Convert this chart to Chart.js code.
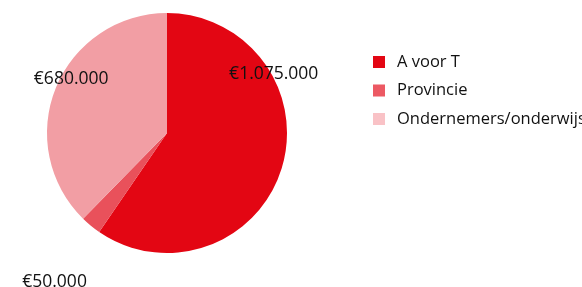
<!DOCTYPE html>
<html>
<head>
<meta charset="utf-8">
<script src="https://cdn.jsdelivr.net/npm/chart.js@4.4.1/dist/chart.umd.min.js"></script>
<style>
  html, body { margin: 0; padding: 0; background: #fff; }
  #wrap { width: 582px; height: 287px; position: relative; }
</style>
</head>
<body>
<div id="wrap"><canvas id="chart"></canvas></div>
<script>
var categories = ["A voor T", "Provincie", "Ondernemers/onderwijs"];
var amounts = [1075000, 50000, 680000];
var valueLabels = ["€1.075.000", "€50.000", "€680.000"];

var sliceColors = ["#e30613", "#e9515b", "#f29ea4"];
var legendColors = ["#e30613", "#ec5963", "#f9c2c6"];
// label spot per slice: degrees from slice middle, fraction of radius
var labelSpots = [[-46.5, 1.02], [-2.2, 1.55], [7.6, 0.92]];

var FONT = "'Open Sans', 'Noto Sans', sans-serif";

// value labels drawn next to each slice
var sliceLabels = {
  id: 'sliceLabels',
  afterDatasetsDraw: function(chart) {
    var ctx = chart.ctx;
    var meta = chart.getDatasetMeta(0);
    ctx.save();
    ctx.font = "17.5px " + FONT;
    ctx.fillStyle = "#111";
    ctx.textAlign = "center";
    ctx.textBaseline = "middle";
    meta.data.forEach(function(arc, i) {
      var p = arc.getProps(['x', 'y', 'startAngle', 'endAngle', 'outerRadius'], true);
      var a = (p.startAngle + p.endAngle) / 2 + labelSpots[i][0] * Math.PI / 180;
      var r = p.outerRadius * labelSpots[i][1];
      ctx.fillText(valueLabels[i], p.x + Math.cos(a) * r, p.y + Math.sin(a) * r + 1);
    });
    ctx.restore();
  }
};

// legend on the right, top aligned
var sideLegend = {
  id: 'sideLegend',
  afterDraw: function(chart) {
    var ctx = chart.ctx;
    ctx.save();
    ctx.font = "16.5px " + FONT;
    ctx.textBaseline = "middle";
    categories.forEach(function(name, i) {
      var y = 62 + i * 28.5;
      ctx.fillStyle = legendColors[i];
      ctx.fillRect(373, y - 6, 12, 12);
      ctx.fillStyle = "#111";
      ctx.fillText(name, 397, y);
    });
    ctx.restore();
  }
};

new Chart(document.getElementById("chart"), {
  type: 'pie',
  data: {
    labels: categories,
    datasets: [{
      data: amounts,
      backgroundColor: sliceColors,
      borderWidth: 0
    }]
  },
  options: {
    responsive: true,
    maintainAspectRatio: false,
    animation: false,
    layout: { padding: { left: 47, right: 295, top: 13, bottom: 34 } },
    plugins: {
      legend: { display: false },
      tooltip: { enabled: false }
    }
  },
  plugins: [sliceLabels, sideLegend]
});
</script>
</body>
</html>
